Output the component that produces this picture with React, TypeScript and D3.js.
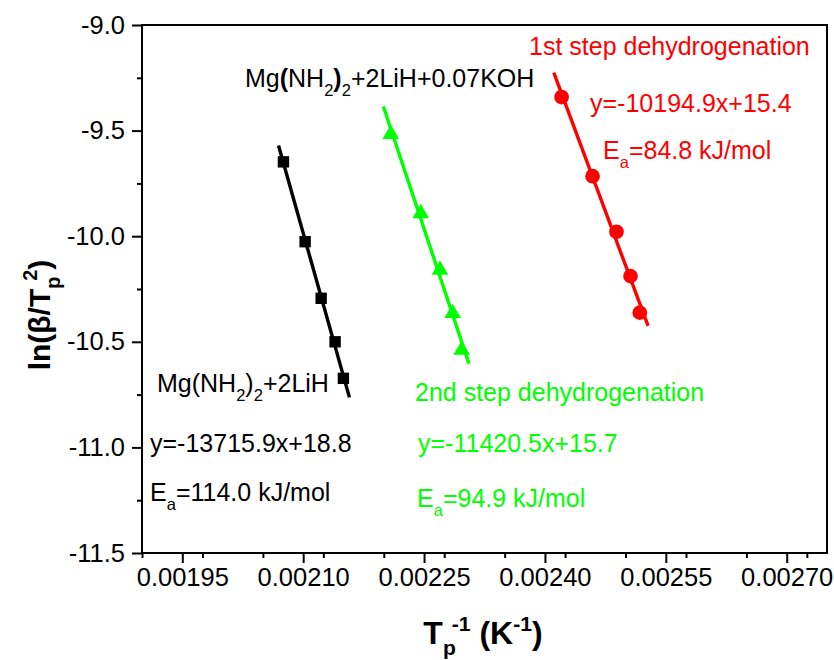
import { select, scaleLinear, axisBottom, axisLeft, range, line, symbol, symbolSquare, symbolCircle, symbolTriangle, mean, sum } from 'd3';
import { useEffect, useRef } from 'react';

// Series (x = 1/Tp in K^-1, y = ln(beta/Tp^2))
const blackX = [0.0020755, 0.0021024, 0.0021223, 0.0021396, 0.0021499];
const blackY = [-9.648, -10.026, -10.294, -10.500, -10.673];
const greenX = [0.0022087, 0.0022459, 0.0022698, 0.0022855, 0.0022967];
const greenY = [-9.517, -9.892, -10.160, -10.365, -10.539];
const redX = [0.0024207, 0.0024591, 0.0024888, 0.0025062, 0.0025177];
const redY = [-9.341, -9.716, -9.979, -10.189, -10.362];

// x extent of each fitted line
const blackFit = [0.0020694, 0.0021574];
const greenFit = [0.0021995, 0.0023057];
const redFit = [0.002411, 0.002528];

const xTicks = [0.00195, 0.0021, 0.00225, 0.0024, 0.00255, 0.0027];
const yTicks = [-9.0, -9.5, -10.0, -10.5, -11.0, -11.5];

const FONT = '"Liberation Sans", Arial, sans-serif';

// least squares fit, returns [slope, intercept]
function fit(xs, ys) {
    const mx = mean(xs), my = mean(ys);
    const sxy = sum(xs.map((x, i) => (x - mx) * (ys[i] - my)));
    const sxx = sum(xs.map(x => (x - mx) * (x - mx)));
    const k = sxy / sxx;
    return [k, my - k * mx];
}

// text with sub / superscripts: parts = [[text, 'sub'|'sup'|'', bold?, dx?]]
function richText(g, x, y, parts, size, color, bold = false) {
    const t = g.append('text')
        .attr('x', x).attr('y', y)
        .attr('font-family', FONT)
        .attr('font-size', size)
        .attr('font-weight', bold ? 'bold' : 'normal')
        .attr('fill', color);
    let shift = 0;
    parts.forEach(([s, kind, b, dx]) => {
        const target = kind === 'sub' ? size * 0.34 : kind === 'sup' ? -size * 0.42 : 0;
        const ts = t.append('tspan')
            .attr('dy', target - shift)
            .attr('font-size', kind ? size * 0.66 : size)
            .text(s);
        if (dx) ts.attr('dx', dx);
        if (b) ts.attr('font-weight', 'bold');
        shift = target;
    });
    return t;
}

function KissingerPlot() {
    const svgRef = useRef();
    const width = 834, height = 660;
    const margin = { top: 25, bottom: 107, left: 142, right: 7 };

    useEffect(() => {
        const svg = select(svgRef.current);
        svg.selectAll('*').remove();

        const xScale = scaleLinear()
            .domain([0.0019, 0.00275])
            .range([margin.left, width - margin.right]);
        const yScale = scaleLinear()
            .domain([-11.5, -9.0])
            .range([height - margin.bottom, margin.top]);

        const x0 = margin.left, x1 = width - margin.right;
        const y0 = height - margin.bottom, y1 = margin.top;

        // minor ticks
        const xMinor = range(0.0019, 0.002751, 0.000075).filter(v => !xTicks.some(t => Math.abs(t - v) < 1e-8));
        const yMinor = range(-11.5, -8.99, 0.25).filter(v => !yTicks.some(t => Math.abs(t - v) < 1e-8));

        const styleAxis = g => {
            g.select('.domain').remove();
            g.selectAll('line').attr('stroke', '#000').attr('stroke-width', 2);
            g.selectAll('text')
                .attr('font-family', FONT)
                .attr('font-size', 25.5)
                .attr('fill', '#000');
        };

        svg.append('g')
            .attr('transform', `translate(0, ${y0})`)
            .call(axisBottom(xScale).tickValues(xMinor).tickSize(5).tickFormat(() => ''))
            .call(styleAxis);
        svg.append('g')
            .attr('transform', `translate(0, ${y0})`)
            .call(axisBottom(xScale).tickValues(xTicks).tickSize(10).tickPadding(5)
                .tickFormat(d => d.toFixed(5)))
            .call(styleAxis);
        svg.append('g')
            .attr('transform', `translate(${x0}, 0)`)
            .call(axisLeft(yScale).tickValues(yMinor).tickSize(5).tickFormat(() => ''))
            .call(styleAxis);
        svg.append('g')
            .attr('transform', `translate(${x0}, 0)`)
            .call(axisLeft(yScale).tickValues(yTicks).tickSize(10).tickPadding(7)
                .tickFormat(d => d.toFixed(1)))
            .call(styleAxis);

        // frame
        svg.append('rect')
            .attr('x', x0).attr('y', y1)
            .attr('width', x1 - x0).attr('height', y0 - y1)
            .attr('fill', 'none').attr('stroke', '#000').attr('stroke-width', 2);

        // series
        const series = [
            { xs: blackX, ys: blackY, ext: blackFit, color: '#000000', shape: symbolSquare, size: 130 },
            { xs: greenX, ys: greenY, ext: greenFit, color: '#00ff00', shape: symbolTriangle, size: 120 },
            { xs: redX, ys: redY, ext: redFit, color: '#ff0000', shape: symbolCircle, size: 170 },
        ];

        series.forEach(s => {
            const [k, b] = fit(s.xs, s.ys);
            const lineGen = line().x(d => xScale(d)).y(d => yScale(k * d + b));
            svg.append('path')
                .attr('d', lineGen(s.ext))
                .attr('fill', 'none')
                .attr('stroke', s.color)
                .attr('stroke-width', 3.4);
            svg.append('g').selectAll('path')
                .data(s.xs)
                .enter()
                .append('path')
                .attr('transform', (d, i) => `translate(${xScale(d)}, ${yScale(s.ys[i])})`)
                .attr('d', symbol().type(s.shape).size(s.size)())
                .attr('fill', s.color);
        });

        // annotations
        const red = '#ff0000', green = '#00ff00', black = '#000000';
        const fs = 25;
        richText(svg, 529, 55, [['1st step dehydrogenation', '']], fs, red);
        richText(svg, 590, 112, [['y=-10194.9x+15.4', '']], fs, red);
        richText(svg, 603, 159, [['E', ''], ['a', 'sub'], ['=84.8 kJ/mol', '']], fs, red);

        richText(svg, 245, 87, [['Mg', ''], ['(', '', true], ['NH', ''], ['2', 'sub'], [')', '', true], ['2', 'sub'], ['+2LiH+0.07KOH', '']], fs, black);
        richText(svg, 157, 392, [['Mg(NH', ''], ['2', 'sub'], [')', ''], ['2', 'sub'], ['+2LiH', '']], fs, black);
        richText(svg, 150, 452, [['y=-13715.9x+18.8', '']], fs, black);
        richText(svg, 150, 501, [['E', ''], ['a', 'sub'], ['=114.0 kJ/mol', '']], fs, black);

        richText(svg, 415, 401, [['2nd step dehydrogenation', '']], fs, green);
        richText(svg, 418, 452, [['y=-11420.5x+15.7', '']], fs, green);
        richText(svg, 417, 507, [['E', ''], ['a', 'sub'], ['=94.9 kJ/mol', '']], fs, green);

        // axis titles
        richText(svg, 483, 644, [['T', ''], ['p', 'sub'], ['-1', 'sup', false, -4], [' (K', ''], ['-1', 'sup'], [')', '']], 32, black, true)
            .attr('text-anchor', 'middle');
        richText(svg, 0, 0, [['ln(β/T', ''], ['p', 'sub'], ['2', 'sup', false, -4], [')', '']], 30, black, true)
            .attr('text-anchor', 'middle')
            .attr('transform', 'translate(50, 315) rotate(-90)');
    }, []);

    return (
        <div style={{ position: 'absolute', left: 0, top: 0 }}>
            <svg width={width} height={height} ref={svgRef} style={{ display: 'block', background: '#fff' }}></svg>
        </div>
    );
}

export default function App() {
    return <KissingerPlot />;
}
